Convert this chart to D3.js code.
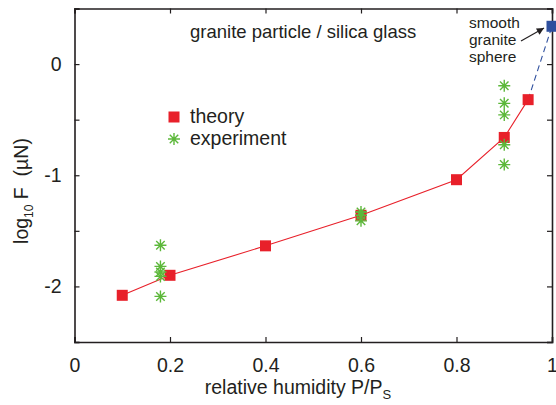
<!DOCTYPE html>
<html>
<head>
<meta charset="utf-8">
<script src="https://cdn.jsdelivr.net/npm/d3@7"></script>
<style>
  body { margin: 0; background: #fff; }
  text { font-family: "Liberation Sans", Arial, sans-serif; fill: #231f20; }
</style>
</head>
<body>
<div id="chart"></div>
<script>
// theory curve (red squares)
const theoryRH = [0.1, 0.2, 0.4, 0.6, 0.8, 0.9, 0.95]
const theoryLogF = [-2.08, -1.90, -1.635, -1.36, -1.04, -0.66, -0.32]

// smooth granite sphere (blue square)
const sphereRH = [1.0]
const sphereLogF = [0.34]

// experiment (green asterisks)
const expRH = [0.18, 0.18, 0.18, 0.18, 0.18, 0.6, 0.6, 0.6, 0.9, 0.9, 0.9, 0.9, 0.9]
const expLogF = [-1.63, -1.82, -1.87, -1.91, -2.09, -1.33, -1.36, -1.41, -0.195, -0.353, -0.457, -0.725, -0.904]

const xTicks = [0, 0.2, 0.4, 0.6, 0.8, 1]
const yTicks = [-2.5, -2, -1.5, -1, -0.5, 0, 0.5]
const yLabelled = [-2, -1, 0]

let width = 556
let height = 405
let margin = {top: 8.5, right: 4, bottom: 63, left: 74.5}

const red = "#e8202a"
const green = "#5cb83a"
const blue = "#2e4f9e"

let svg = d3.select("#chart")
  .append("svg")
  .attr("width", width)
  .attr("height", height)

let x = d3.scaleLinear().domain([0, 1]).range([margin.left, width - margin.right])
let y = d3.scaleLinear().domain([-2.5, 0.5]).range([height - margin.bottom, margin.top])

// axes, ticks pointing inward on all four sides
let fmt = d => yLabelled.includes(d) ? String(d) : ""

svg.append("g")
  .attr("transform", `translate(0,${y(-2.5)})`)
  .call(d3.axisBottom(x).tickValues(xTicks).tickSize(-5).tickPadding(16).tickFormat(d => String(d)))
svg.append("g")
  .attr("transform", `translate(0,${y(0.5)})`)
  .call(d3.axisTop(x).tickValues(xTicks).tickSize(-5).tickFormat(""))
svg.append("g")
  .attr("transform", `translate(${x(0)},0)`)
  .call(d3.axisLeft(y).tickValues(yTicks).tickSize(-5).tickPadding(13).tickFormat(fmt))
svg.append("g")
  .attr("transform", `translate(${x(1)},0)`)
  .call(d3.axisRight(y).tickValues(yTicks).tickSize(-5).tickFormat(""))

svg.selectAll(".domain").attr("stroke", "#231f20").attr("stroke-width", 1.6)
svg.selectAll(".tick line").attr("stroke", "#231f20").attr("stroke-width", 1.2)
svg.selectAll(".tick text")
  .style("font-family", "'Liberation Sans', Arial, sans-serif")
  .style("font-size", "19.5px")
  .attr("fill", "#231f20")

// theory line
let line = d3.line().x(d => x(d[0])).y(d => y(d[1]))
let theory = theoryRH.map((v, i) => [v, theoryLogF[i]])
svg.append("path")
  .datum(theory)
  .attr("d", line)
  .attr("fill", "none")
  .attr("stroke", red)
  .attr("stroke-width", 1.1)

// dashed link to the smooth sphere
let last = theory[theory.length - 1]
svg.append("path")
  .datum([last, [sphereRH[0], sphereLogF[0]]])
  .attr("d", line)
  .attr("fill", "none")
  .attr("stroke", blue)
  .attr("stroke-width", 1.1)
  .attr("stroke-dasharray", "6,4")

// asterisk: plus and cross combined
function star(cx, cy, r) {
  let d = r * 0.707
  return `M${cx - r},${cy}L${cx + r},${cy}M${cx},${cy - r}L${cx},${cy + r}` +
    `M${cx - d},${cy - d}L${cx + d},${cy + d}M${cx - d},${cy + d}L${cx + d},${cy - d}`
}

let sq = 11

svg.append("g")
  .selectAll("rect")
  .data(theory)
  .enter()
  .append("rect")
    .attr("x", d => x(d[0]) - sq / 2)
    .attr("y", d => y(d[1]) - sq / 2)
    .attr("width", sq)
    .attr("height", sq)
    .attr("fill", red)

svg.append("g")
  .selectAll("path")
  .data(expRH.map((v, i) => [v, expLogF[i]]))
  .enter()
  .append("path")
    .attr("d", d => star(x(d[0]), y(d[1]), 6))
    .attr("stroke", green)
    .attr("stroke-width", 1.4)
    .attr("fill", "none")

svg.append("rect")
  .attr("x", x(sphereRH[0]) - sq / 2)
  .attr("y", y(sphereLogF[0]) - sq / 2)
  .attr("width", sq)
  .attr("height", sq)
  .attr("fill", blue)

// title
svg.append("text")
  .attr("x", 190)
  .attr("y", 38)
  .style("font-size", "18.5px")
  .text("granite particle / silica glass")

// legend
svg.append("rect")
  .attr("x", 174 - sq / 2)
  .attr("y", 117 - sq / 2)
  .attr("width", sq)
  .attr("height", sq)
  .attr("fill", red)
svg.append("path")
  .attr("d", star(174, 139, 6))
  .attr("stroke", green)
  .attr("stroke-width", 1.4)
svg.append("text").attr("x", 190).attr("y", 123).style("font-size", "19.5px").text("theory")
svg.append("text").attr("x", 190).attr("y", 145).style("font-size", "19.5px").text("experiment")

// annotation
let note = svg.append("text").style("font-size", "15.5px")
;["smooth", "granite", "sphere"].forEach((s, i) => {
  note.append("tspan").attr("x", 469).attr("y", 28 + i * 17).text(s)
})

svg.append("defs").append("marker")
  .attr("id", "arrow")
  .attr("viewBox", "0 0 10 10")
  .attr("refX", 10)
  .attr("refY", 5)
  .attr("markerWidth", 7)
  .attr("markerHeight", 6)
  .attr("orient", "auto")
  .append("path")
  .attr("d", "M0,0L10,5L0,10z")
  .attr("fill", "#231f20")

svg.append("line")
  .attr("x1", 521).attr("y1", 41)
  .attr("x2", 544).attr("y2", 28)
  .attr("stroke", "#231f20")
  .attr("stroke-width", 1.2)
  .attr("marker-end", "url(#arrow)")

// axis titles
let xl = svg.append("text")
  .attr("x", 298)
  .attr("y", 394)
  .attr("text-anchor", "middle")
  .style("font-size", "19.5px")
xl.append("tspan").text("relative humidity P/P")
xl.append("tspan").attr("dy", 5).style("font-size", "13px").text("S")

let yl = svg.append("text")
  .attr("transform", "translate(28,191) rotate(-90)")
  .attr("text-anchor", "middle")
  .style("font-size", "19.5px")
yl.append("tspan").text("log")
yl.append("tspan").attr("dy", 5).style("font-size", "12px").text("10")
yl.append("tspan").attr("dy", -5).text("\u00a0F\u00a0\u00a0(\u00b5N)")
</script>
</body>
</html>
